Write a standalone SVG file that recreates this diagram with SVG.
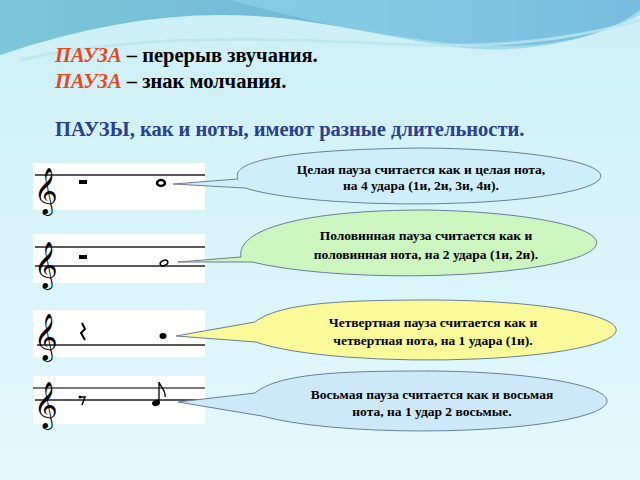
<svg xmlns="http://www.w3.org/2000/svg" width="640" height="480" viewBox="0 0 640 480">
<defs>
<linearGradient id="bg" x1="0" y1="0" x2="0" y2="1"><stop offset="0" stop-color="#cdeff6"/><stop offset="1" stop-color="#e3f9fd"/></linearGradient>
<linearGradient id="wave" x1="0" y1="0" x2="1" y2="0"><stop offset="0" stop-color="#7cc7d8"/><stop offset="0.6" stop-color="#6fb7d8"/><stop offset="1" stop-color="#3f8fc8"/></linearGradient>
</defs>
<style>
.t{font-family:"Liberation Serif",serif;font-weight:bold}
.r{fill:#e8461c;font-style:italic}
.b{font-family:"Liberation Serif",serif;font-weight:bold;font-size:13.5px;text-anchor:middle}
.st{fill:#fff}
.ln{stroke:#222;stroke-width:1.3}
.cl{font-family:"DejaVu Sans",sans-serif;font-size:40px}
.bub{stroke:#6a7f96;stroke-width:1}
</style>
<rect width="640" height="480" fill="url(#bg)"/>
<path d="M0 0H640V10C560 70 420 40 330 25C220 5 120 15 0 55Z" fill="url(#wave)"/>
<path d="M230 0C300 20 380 35 440 45C520 58 590 40 640 15V0Z" fill="#8fd0e8" opacity="0.7"/>
<path d="M20 60C150 30 300 40 420 45C520 48 590 35 640 20" fill="none" stroke="#b9e6ee" stroke-width="3" opacity="0.8"/>
<text class="t" x="55" y="62" font-size="20.5"><tspan class="r">ПАУЗА</tspan> – перерыв звучания.</text>
<text class="t" x="55" y="88" font-size="20.5"><tspan class="r">ПАУЗА</tspan> – знак молчания.</text>
<text class="t" x="55" y="136" font-size="20.5" fill="#2a3f8f">ПАУЗЫ, как и ноты, имеют разные длительности.</text>
<g id="staff1"><rect class="st" x="33" y="163" width="172" height="47"/><line class="ln" x1="35" y1="175" x2="205" y2="175"/><text class="cl" x="34" y="204">𝄞</text><rect x="79" y="180" width="8" height="4"/><ellipse cx="161" cy="183" rx="4" ry="3" fill="none" stroke="#000" stroke-width="2.5"/></g>
<g id="staff2"><rect class="st" x="33" y="234" width="172" height="49"/><line class="ln" x1="35" y1="247" x2="205" y2="247"/><line class="ln" x1="35" y1="266" x2="205" y2="266"/><text class="cl" x="34" y="278">𝄞</text><rect x="79" y="255" width="8" height="4"/><ellipse cx="164" cy="263" rx="4" ry="2.5" fill="none" stroke="#000" stroke-width="1.5" transform="rotate(-25 164 263)"/></g>
<g id="staff3"><rect class="st" x="33" y="310" width="172" height="47"/><line class="ln" x1="37" y1="345" x2="205" y2="345"/><text class="cl" x="34" y="350">𝄞</text><path d="M82 323L85 329L81 333L85 340" fill="none" stroke="#000" stroke-width="2"/><ellipse cx="163" cy="336" rx="3.5" ry="3" fill="#000"/></g>
<g id="staff4"><rect class="st" x="33" y="376" width="172" height="48"/><line x1="33" y1="388" x2="205" y2="388" stroke="#777" stroke-width="2"/><line class="ln" x1="35" y1="400" x2="205" y2="400"/><text class="cl" x="34" y="418">𝄞</text><path d="M80 397L85 397L82 405" fill="none" stroke="#000" stroke-width="1.5"/><circle cx="80" cy="397" r="1.5"/><ellipse cx="156" cy="403" rx="4" ry="3" fill="#000" transform="rotate(-20 156 403)"/><path d="M159 402V382C161 388 166 390 165 397" fill="none" stroke="#000" stroke-width="1.3"/></g>
<g id="connectors">
<path class="bub" d="M173 184L238 179C234 170 238 150 421 148A187 28 0 1 1 245 188Z" fill="#cfeefc"/>
<path class="bub" d="M178 262L241 257C236 230 300 210 426 210A190 33 0 1 1 252 262Z" fill="#ccf5c0"/>
<path class="bub" d="M176 336L255 322C280 302 350 300 433 300A188 30 0 1 1 256 342Z" fill="#fafa9a"/>
<path class="bub" d="M178 402L255 393C280 372 350 371 432 371A185 30 0 1 1 262 416Z" fill="#cde9f9"/>
</g>
<g id="n1"><text class="b" x="421" y="174">Целая пауза считается как и целая нота,</text><text class="b" x="421" y="190">на 4 удара (1и, 2и, 3и, 4и).</text></g>
<g id="n2"><text class="b" x="426" y="240">Половинная пауза считается как и</text><text class="b" x="426" y="259">половинная нота, на 2 удара (1и, 2и).</text></g>
<g id="n3"><text class="b" x="433" y="327">Четвертная пауза считается как и</text><text class="b" x="433" y="345">четвертная нота, на 1 удара (1и).</text></g>
<g id="n4"><text class="b" x="432" y="399">Восьмая пауза считается как и восьмая</text><text class="b" x="432" y="416">нота, на 1 удар 2 восьмые.</text></g>
</svg>
